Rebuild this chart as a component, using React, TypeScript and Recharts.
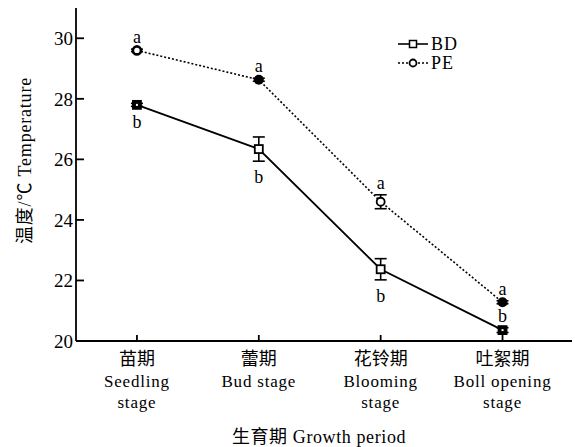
import React from 'react';
import {
  LineChart,
  Line,
  XAxis,
  YAxis,
  ErrorBar,
  LabelList,
} from 'recharts';

// Données
const stagesZh = ['苗期', '蕾期', '花铃期', '吐絮期'];
const stagesEn = [['Seedling', 'stage'], ['Bud stage'], ['Blooming', 'stage'], ['Boll opening', 'stage']];
const bdValues = [27.8, 26.34, 22.37, 20.36];
const bdErrors = [0.05, 0.4, 0.35, 0.08];
const bdLetters = ['b', 'b', 'b', 'b'];
const peValues = [29.6, 28.63, 24.6, 21.28];
const peErrors = [0.04, 0.05, 0.23, 0.05];
const peLetters = ['a', 'a', 'a', 'a'];
const yTicks = [20, 22, 24, 26, 28, 30];
const seriesNames = ['BD', 'PE'];

const FONT = '"Liberation Serif", "Noto Sans CJK SC", serif';
const PX_PER_UNIT = 30.25;

const data = stagesZh.map((s, i) => ({
  x: i,
  BD: bdValues[i],
  bdErr: bdErrors[i],
  bdLetter: bdLetters[i],
  PE: peValues[i],
  peErr: peErrors[i],
  peLetter: peLetters[i],
}));

// styles des marqueurs (figure scannée : pleins / creux)
const bdMarker = ['solid', 'open', 'open', 'solid'];
const peMarker = ['ring', 'solid', 'open', 'solid'];

function BdDot(props: any) {
  const { cx, cy, index } = props;
  if (cx == null || cy == null) return null;
  const solid = bdMarker[index] === 'solid';
  return (
    <g>
      <rect x={cx - 4} y={cy - 4} width={8} height={8} fill={solid ? '#000' : '#fff'} stroke="#000" strokeWidth={1.8} />
      {solid && <rect x={cx - 1} y={cy - 1} width={2} height={2} fill="#fff" />}
    </g>
  );
}

function PeDot(props: any) {
  const { cx, cy, index } = props;
  if (cx == null || cy == null) return null;
  const kind = peMarker[index];
  if (kind === 'solid') return <circle cx={cx} cy={cy} r={5} fill="#000" />;
  return <circle cx={cx} cy={cy} r={4} fill="#fff" stroke="#000" strokeWidth={kind === 'ring' ? 2.6 : 1.8} />;
}

function XTick(props: any) {
  const { x, y, payload } = props;
  const i = payload.value;
  const en = stagesEn[i] || [];
  return (
    <g fontFamily={FONT} fill="#000">
      <text x={x} y={y + 24} textAnchor="middle" fontSize={18}>{stagesZh[i]}</text>
      {en.map((line, k) => (
        <text key={k} x={x} y={y + 46 + k * 21} textAnchor="middle" fontSize={17} letterSpacing={0.8}>
          {line}
        </text>
      ))}
    </g>
  );
}

function letterLabel(side: 'above' | 'below', errors: number[], lastSide?: 'above') {
  return (props: any) => {
    const { x, y, value, index } = props;
    if (x == null || y == null) return null;
    const errPx = errors[index] * PX_PER_UNIT;
    const s = index === 3 && lastSide ? lastSide : side;
    const cy = s === 'above' ? y - 11 - errPx : y + 17 + errPx;
    return (
      <text x={x} y={cy + 5} textAnchor="middle" fontSize={18} fontFamily={FONT} fill="#000">
        {value}
      </text>
    );
  };
}

function LegendBox() {
  return (
    <svg width={80} height={44} style={{ position: 'absolute', left: 390, top: 32 }}>
      {seriesNames.map((name, k) => {
        const y = 12 + k * 19;
        return (
          <g key={name}>
            <line x1={8} x2={38} y1={y} y2={y} stroke="#000" strokeWidth={1.6} strokeDasharray={k === 1 ? '2 2' : undefined} />
            {k === 0 ? (
              <rect x={19.5} y={y - 3.5} width={7} height={7} fill="#fff" stroke="#000" strokeWidth={1.5} />
            ) : (
              <circle cx={23} cy={y} r={3.5} fill="#fff" stroke="#000" strokeWidth={1.8} />
            )}
            <text x={41} y={y + 6} fontSize={18} fontFamily={FONT} fill="#000" letterSpacing={1}>
              {name}
            </text>
          </g>
        );
      })}
    </svg>
  );
}

export default function App() {
  return (
    <div style={{ position: 'absolute', left: 0, top: 0, width: 575, height: 447, background: '#fff' }}>
      <LineChart width={575} height={447} data={data} margin={{ top: 8, right: 3, bottom: 0, left: 0 }}>
        <XAxis
          dataKey="x"
          type="number"
          domain={[-0.5, 3.57]}
          ticks={[0, 1, 2, 3]}
          interval={0}
          allowDataOverflow
          height={106}
          stroke="#000"
          strokeWidth={1.8}
          tickSize={-6}
          tickMargin={6}
          tick={<XTick />}
          label={(p: any) => {
            const vb = p.viewBox || { x: 76, y: 341, width: 496 };
            return (
              <text x={vb.x + vb.width / 2 - 5} y={vb.y + 102} textAnchor="middle" fontSize={18} fontFamily={FONT} fill="#000" letterSpacing={0.6}>
                生育期  Growth period
              </text>
            );
          }}
        />
        <YAxis
          type="number"
          domain={[20, 31]}
          ticks={yTicks}
          interval={0}
          width={76}
          stroke="#000"
          strokeWidth={1.8}
          tickSize={-8}
          tickMargin={11}
          tick={{ fontSize: 19, fontFamily: FONT, fill: '#000' }}
          label={(p: any) => {
            const vb = p.viewBox || { x: 0, y: 8, height: 333 };
            const cx = vb.x + 25;
            const cy = vb.y + vb.height / 2 - 14;
            return (
              <text x={cx} y={cy} transform={`rotate(-90, ${cx}, ${cy})`} textAnchor="middle" dominantBaseline="central" fontSize={18} fontFamily={FONT} fill="#000" letterSpacing={0.8}>
                温度/℃  Temperature
              </text>
            );
          }}
        />
        <Line
          dataKey="PE"
          stroke="#000"
          strokeWidth={1.6}
          strokeDasharray="2 2"
          dot={<PeDot />}
          activeDot={false}
          isAnimationActive={false}
        >
          <ErrorBar dataKey="peErr" width={6} stroke="#000" strokeWidth={1.6} />
          <LabelList dataKey="peLetter" content={letterLabel('above', peErrors)} />
        </Line>
        <Line
          dataKey="BD"
          stroke="#000"
          strokeWidth={1.8}
          dot={<BdDot />}
          activeDot={false}
          isAnimationActive={false}
        >
          <ErrorBar dataKey="bdErr" width={6} stroke="#000" strokeWidth={1.6} />
          <LabelList dataKey="bdLetter" content={letterLabel('below', bdErrors, 'above')} />
        </Line>
      </LineChart>
      <LegendBox />
    </div>
  );
}
